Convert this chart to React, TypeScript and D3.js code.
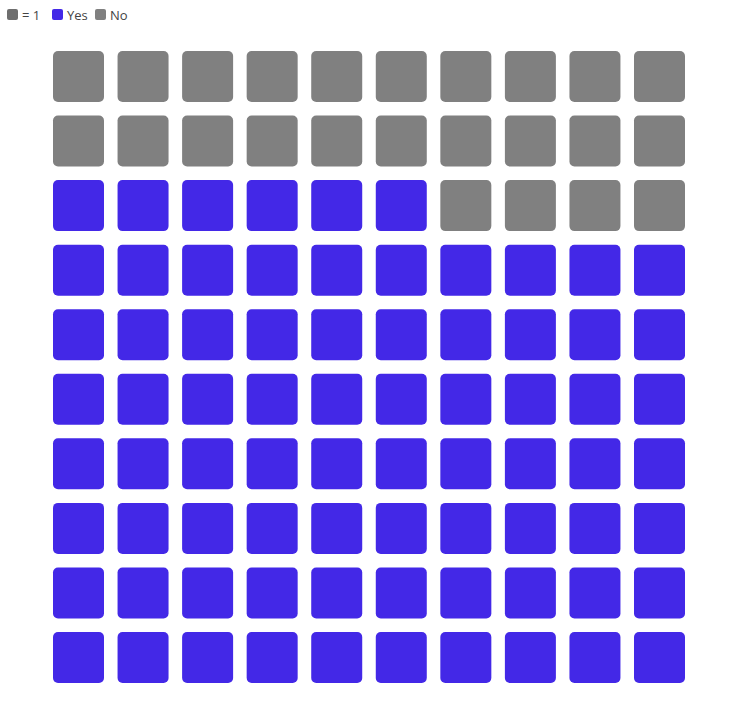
import React from 'react'
import * as d3 from 'd3'

const categories = ['Yes', 'No']
const counts = [76, 24]
const colors = ['#4328e7', '#808080']
const unitColor = '#6e6e6e'
const cols = 10
const rows = 10

export default function App() {
  const width = 731
  const height = 716

  const x = d3.scaleBand<number>().domain(d3.range(cols)).range([53, 685]).paddingInner(0.21)
  const y = d3.scaleBand<number>().domain(d3.range(rows)).range([683, 51]).paddingInner(0.21)

  // expand counts into one cell per unit, filling bottom row first, left to right
  const cells: { i: number; cat: number }[] = []
  counts.forEach((c, k) => {
    for (let j = 0; j < c; j++) cells.push({ i: cells.length, cat: k })
  })

  const legend = [{ label: '= 1', color: unitColor }].concat(
    categories.map((c, k) => ({ label: c, color: colors[k] }))
  )
  const legendX = [7, 52, 95]

  return (
    <svg width={width} height={height} style={{ position: 'absolute', left: 0, top: 0 }}
      fontFamily="'Open Sans', sans-serif">
      <g>
        {legend.map((l, k) => (
          <g key={l.label} transform={`translate(${legendX[k]},9)`}>
            <rect width={11} height={11} rx={2} fill={l.color} />
            <text x={15} y={10.5} fontSize={13} fill="#444">{l.label}</text>
          </g>
        ))}
      </g>
      <g>
        {cells.map(d => {
          const r = Math.floor(d.i / cols)
          const c = d.i % cols
          return (
            <rect key={d.i} x={x(c)} y={y(r)} width={x.bandwidth()} height={y.bandwidth()}
              rx={5} fill={colors[d.cat]} />
          )
        })}
      </g>
    </svg>
  )
}
